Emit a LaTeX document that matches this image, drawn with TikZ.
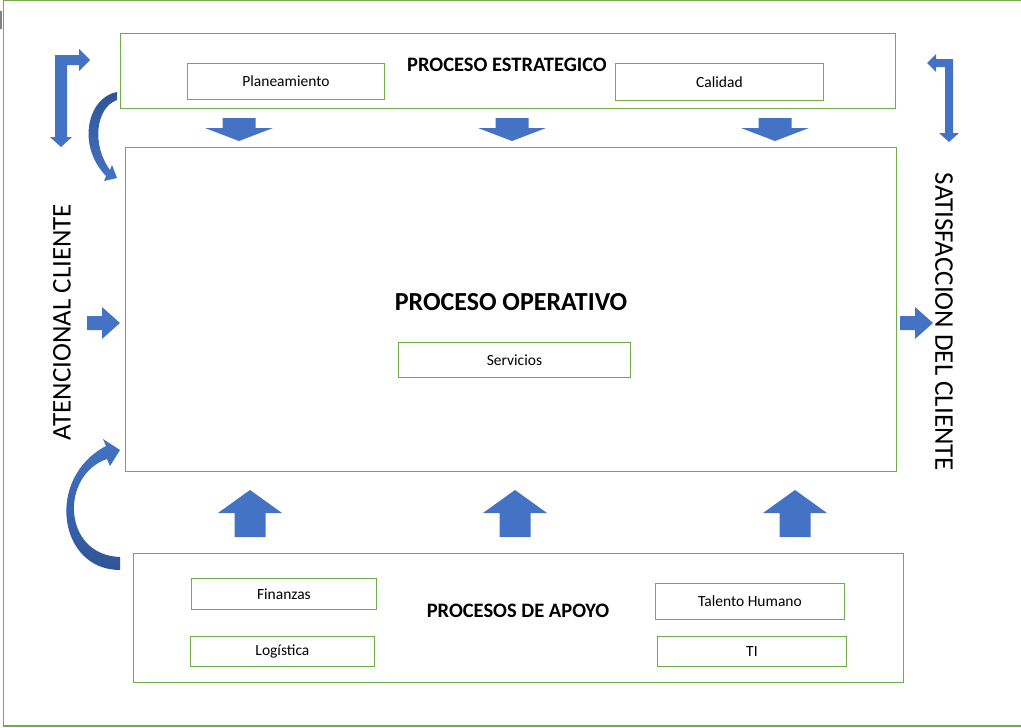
\documentclass[tikz,border=0pt]{standalone}
\usepackage{fontspec}
\setmainfont{Carlito}
\begin{document}
\definecolor{frame}{HTML}{70AD47}
\definecolor{arrowblue}{HTML}{4472C4}
\definecolor{arrowdark}{HTML}{2F5597}
\begin{tikzpicture}[x=1pt,y=-1pt,
  box/.style={draw=frame,line width=0.9pt},
  itembox/.style={draw=frame,line width=0.9pt,minimum height=#1,inner sep=0pt,font=\fontsize{15.5}{18}\selectfont},
  title/.style={font=\bfseries\fontsize{20.5}{24}\selectfont},
  bigtitle/.style={font=\bfseries\fontsize{26}{30}\selectfont},
  sidetext/.style={font=\fontsize{27}{31}\selectfont},
  downarrow/.pic={\fill[arrowblue] (-16.5,0) -- (16.5,0) -- (16.5,10) -- (34,10) -- (0,23) -- (-34,10) -- (-16.5,10) -- cycle;},
  uparrow/.pic={\fill[arrowblue] (0,0) -- (32,23) -- (15.5,23) -- (15.5,47) -- (-15.5,47) -- (-15.5,23) -- (-32,23) -- cycle;},
  rightarrow/.pic={\fill[arrowblue] (0,-7) -- (15,-7) -- (15,-16) -- (33,0) -- (15,16) -- (15,7) -- (0,7) -- cycle;}
]
\useasboundingbox (0,0) rectangle (1021,728);

% page frame (open on the right)
\draw[frame,line width=1.4pt] (1021,0.8) -- (3.5,0.8) -- (3.5,726) -- (1021,726);
\fill[gray] (0,11) rectangle (2.2,29);

% strategic process
\node[box,minimum width=775pt,minimum height=75pt,anchor=north west] (estr) at (120,33) {};
\node[title] (estrt) at (507,65) {PROCESO ESTRATEGICO};
\node[itembox=36pt,minimum width=197pt,anchor=north west] (plan) at (187,63) {Planeamiento};
\node[itembox=37pt,minimum width=208pt,anchor=north west] (cal) at (615,63) {Calidad};

% operative process
\node[box,minimum width=771pt,minimum height=324pt,anchor=north west] (oper) at (125,147) {};
\node[bigtitle] (opert) at (511,302) {PROCESO OPERATIVO};
\node[itembox=35pt,minimum width=232pt,anchor=north west] (serv) at (398,342) {Servicios};

% support processes
\node[box,minimum width=770pt,minimum height=129pt,anchor=north west] (apoyo) at (133,553) {};
\node[title] (apoyot) at (518,611) {PROCESOS DE APOYO};
\node[itembox=31pt,minimum width=185pt,anchor=north west] (fin) at (191,578) {Finanzas};
\node[itembox=30pt,minimum width=184pt,anchor=north west] (log) at (190,636) {Logística};
\node[itembox=36pt,minimum width=189pt,anchor=north west] (tal) at (655,583) {Talento Humano};
\node[itembox=30pt,minimum width=189pt,anchor=north west] (ti) at (657,636) {TI};

% side labels
\node[sidetext,rotate=90] (aten) at (62,322) {ATENCIONAL CLIENTE};
\node[sidetext,rotate=-90] (satis) at (944,322) {SATISFACCION DEL CLIENTE};

% flow arrows between the processes
\pic at (239,118) {downarrow};
\pic at (512,118) {downarrow};
\pic at (775,118) {downarrow};
\pic at (250,490) {uparrow};
\pic at (515,490) {uparrow};
\pic at (795,490) {uparrow};
\pic at (87,323) {rightarrow};
\pic at (900,323) {rightarrow};

% bent arrows in the upper corners
\fill[arrowblue] (55,55) -- (79,55) -- (79,49) -- (90,60) -- (79,71) -- (79,65)
  -- (67,65) -- (67,137) -- (72,137) -- (61,147) -- (50,137) -- (55,137) -- cycle;
\fill[arrowblue] (953,59) -- (953,133) -- (959,133) -- (949,142) -- (939,133)
  -- (945,133) -- (945,67) -- (936,67) -- (936,72) -- (927,63) -- (936,54) -- (936,59) -- cycle;

% curved arrows on the left
\shade[top color=arrowdark,bottom color=arrowblue]
  (117,92) .. controls (88,97) and (76,145) .. (106,176) -- (104,181) -- (117,178)
  -- (112,165) -- (110,170) .. controls (92,146) and (95,108) .. (117,100) -- cycle;
\shade[top color=arrowblue,bottom color=arrowdark]
  (120,570) .. controls (58,570) and (45,478) .. (106,446) -- (103,439) -- (120,450)
  -- (110,466) -- (107,459) .. controls (60,475) and (62,555) .. (120,557) -- cycle;
\end{tikzpicture}
\end{document}
